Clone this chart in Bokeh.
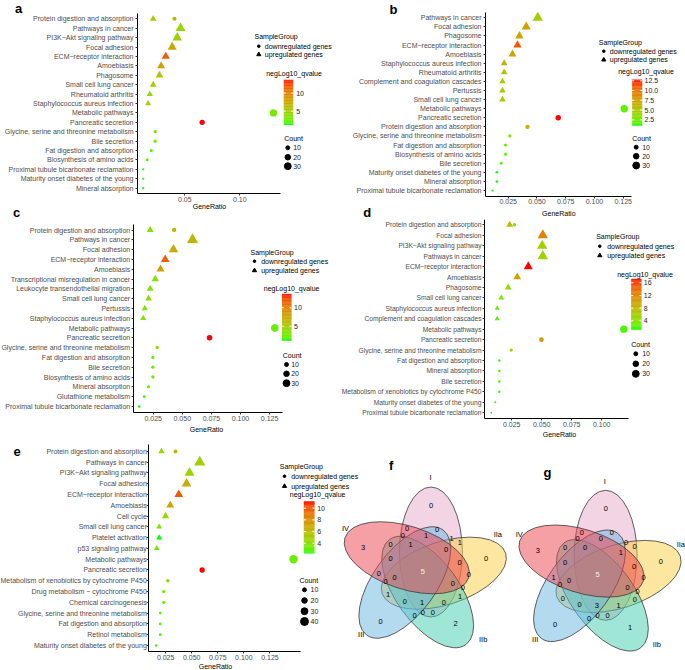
import math
from bokeh.plotting import figure
from bokeh.models import Range1d, FixedTicker, Label, PrintfTickFormatter
from bokeh.layouts import row, column
from bokeh.embed import file_html
from bokeh.resources import INLINE
from bokeh.core.properties import value

FONT = "Liberation Sans"
M = "\u2212"

# ---------------- panel a ----------------
a_rows = ["Protein digestion and absorption", "Pathways in cancer", "PI3K" + M + "Akt signaling pathway",
          "Focal adhesion", "ECM" + M + "receptor interaction", "Amoebiasis", "Phagosome",
          "Small cell lung cancer", "Rheumatoid arthritis", "Staphylococcus aureus infection",
          "Metabolic pathways", "Pancreatic secretion", "Glycine, serine and threonine metabolism",
          "Bile secretion", "Fat digestion and absorption", "Biosynthesis of amino acids",
          "Proximal tubule bicarbonate reclamation", "Maturity onset diabetes of the young",
          "Mineral absorption"]
a_up_rows = list(range(0, 10))
a_up_ratio = [0.0213, 0.0461, 0.0431, 0.0385, 0.0327, 0.0285, 0.0270, 0.0213, 0.0182, 0.0167]
a_up_count = [14, 30, 28, 25, 21, 19, 18, 14, 12, 11]
a_up_q = [5.0, 4.3, 4.6, 7.8, 11.8, 8.2, 5.8, 5.0, 4.0, 5.0]
a_dn_rows = [0] + list(range(10, 19))
a_dn_ratio = [0.0406, 0.1306, 0.0658, 0.0231, 0.0231, 0.0195, 0.0158, 0.0122, 0.0122, 0.0122]
a_dn_count = [11, 35, 18, 7, 7, 6, 5, 3, 3, 3]
a_dn_q = [7.0, 3.0, 13.7, 2.6, 2.6, 2.2, 1.8, 1.2, 1.2, 1.2]
a_xticks = [0.05, 0.10]
a_qbreaks = [5, 10]
a_qlabels = ["5", "10"]
a_cbreaks = [10, 20, 30]

# ---------------- panel b ----------------
b_rows = ["Pathways in cancer", "Focal adhesion", "Phagosome", "ECM" + M + "receptor interaction", "Amoebiasis",
          "Staphylococcus aureus infection", "Rheumatoid arthritis", "Complement and coagulation cascades",
          "Pertussis", "Small cell lung cancer", "Metabolic pathways", "Pancreatic secretion",
          "Protein digestion and absorption", "Glycine, serine and threonine metabolism",
          "Fat digestion and absorption", "Biosynthesis of amino acids", "Bile secretion",
          "Maturity onset diabetes of the young", "Mineral absorption",
          "Proximal tubule bicarbonate reclamation"]
b_up_rows = list(range(0, 10))
b_up_ratio = [0.0507, 0.0407, 0.0348, 0.0331, 0.0287, 0.0215, 0.0215, 0.0200, 0.0200, 0.0200]
b_up_count = [33, 26, 22, 21, 19, 14, 14, 13, 13, 13]
b_up_q = [4.6, 7.6, 7.2, 11.0, 7.4, 6.6, 5.2, 5.0, 5.0, 4.8]
b_dn_rows = list(range(10, 20))
b_dn_ratio = [0.1259, 0.0685, 0.0418, 0.0264, 0.0227, 0.0227, 0.0189, 0.0151, 0.0151, 0.0113]
b_dn_count = [35, 19, 12, 7, 6, 6, 5, 4, 4, 3]
b_dn_q = [2.0, 12.83, 6.4, 3.4, 2.3, 2.3, 1.7, 1.04, 1.04, 1.04]
b_xticks = [0.025, 0.050, 0.075, 0.100, 0.125]
b_qbreaks = [2.5, 5.0, 7.5, 10.0, 12.5]
b_qlabels = ["2.5", "5.0", "7.5", "10.0", "12.5"]
b_cbreaks = [10, 20, 30]

# ---------------- panel c ----------------
c_rows = ["Protein digestion and absorption", "Pathways in cancer", "Focal adhesion",
          "ECM" + M + "receptor interaction", "Amoebiasis", "Transcriptional misregulation in cancer",
          "Leukocyte transendothelial migration", "Small cell lung cancer", "Pertussis",
          "Staphylococcus aureus infection", "Metabolic pathways", "Pancreatic secretion",
          "Glycine, serine and threonine metabolism", "Fat digestion and absorption", "Bile secretion",
          "Biosynthesis of amino acids", "Mineral absorption", "Glutathione metabolism",
          "Proximal tubule bicarbonate reclamation"]
c_up_rows = list(range(0, 10))
c_up_ratio = [0.0224, 0.0588, 0.0424, 0.0353, 0.0313, 0.0267, 0.0224, 0.0210, 0.0178, 0.0164]
c_up_count = [15, 38, 28, 23, 20, 17, 15, 14, 12, 11]
c_up_q = [3.6, 6.8, 7.4, 11.9, 8.2, 3.6, 3.4, 3.8, 3.0, 3.0]
c_dn_rows = [0] + list(range(10, 19))
c_dn_ratio = [0.0430, 0.1295, 0.0734, 0.0284, 0.0247, 0.0247, 0.0247, 0.0210, 0.0173, 0.0130]
c_dn_count = [12, 36, 20, 8, 7, 7, 7, 6, 5, 4]
c_dn_q = [6.6, 2.4, 13.8, 4.2, 2.6, 2.6, 2.6, 2.1, 1.6, 1.11]
c_xticks = [0.025, 0.050, 0.075, 0.100, 0.125]
c_qbreaks = [5, 10]
c_qlabels = ["5", "10"]
c_cbreaks = [10, 20, 30]

# ---------------- panel d ----------------
d_rows = ["Protein digestion and absorption", "Focal adhesion", "PI3K" + M + "Akt signaling pathway",
          "Pathways in cancer", "ECM" + M + "receptor interaction", "Amoebiasis", "Phagosome",
          "Small cell lung cancer", "Staphylococcus aureus infection", "Complement and coagulation cascades",
          "Metabolic pathways", "Pancreatic secretion", "Glycine, serine and threonine metabolism",
          "Fat digestion and absorption", "Mineral absorption", "Bile secretion",
          "Metabolism of xenobiotics by cytochrome P450", "Maturity onset diabetes of the young",
          "Proximal tubule bicarbonate reclamation"]
d_up_rows = list(range(0, 10))
d_up_ratio = [0.0234, 0.0509, 0.0504, 0.0509, 0.0388, 0.0296, 0.0221, 0.0163, 0.0129, 0.0129]
d_up_count = [15, 33, 33, 33, 25, 19, 14, 11, 8, 8]
d_up_q = [7.7, 12.5, 6.1, 5.6, 17.26, 10.0, 4.8, 3.7, 2.9, 2.9]
d_dn_rows = [0] + list(range(10, 19))
d_dn_ratio = [0.0273, 0.1184, 0.0498, 0.0246, 0.0146, 0.0146, 0.0146, 0.0146, 0.0113, 0.0080]
d_dn_count = [8, 34, 14, 7, 4, 4, 4, 4, 3, 2]
d_dn_q = [3.7, 2.1, 10.9, 6.1, 2.1, 2.1, 2.1, 2.1, 1.6, 1.26]
d_xticks = [0.025, 0.050, 0.075, 0.100]
d_qbreaks = [4, 8, 12, 16]
d_qlabels = ["4", "8", "12", "16"]
d_cbreaks = [10, 20, 30]

# ---------------- panel e ----------------
e_rows = ["Protein digestion and absorption", "Pathways in cancer", "PI3K" + M + "Akt signaling pathway",
          "Focal adhesion", "ECM" + M + "receptor interaction", "Amoebiasis", "Cell cycle",
          "Small cell lung cancer", "Platelet activation", "p53 signaling pathway", "Metabolic pathways",
          "Pancreatic secretion", "Metabolism of xenobiotics by cytochrome P450",
          "Drug metabolism " + M + " cytochrome P450", "Chemical carcinogenesis",
          "Glycine, serine and threonine metabolism", "Fat digestion and absorption",
          "Retinol metabolism", "Maturity onset diabetes of the young"]
e_up_rows = list(range(0, 10))
e_up_ratio = [0.0210, 0.0577, 0.0479, 0.0450, 0.0376, 0.0294, 0.0249, 0.0188, 0.0188, 0.0165]
e_up_count = [13, 38, 31, 29, 24, 19, 16, 11, 11, 10]
e_up_q = [4.1, 5.0, 4.5, 6.7, 9.9, 7.2, 4.5, 3.6, 2.28, 3.35]
e_dn_rows = [0] + list(range(10, 19))
e_dn_ratio = [0.0344, 0.1476, 0.0600, 0.0271, 0.0232, 0.0232, 0.0198, 0.0198, 0.0198, 0.0159]
e_dn_count = [10, 45, 18, 8, 7, 7, 5, 5, 5, 4]
e_dn_q = [6.3, 3.2, 11.2, 4.1, 3.35, 3.35, 3.0, 3.0, 3.0, 2.6]
e_xticks = [0.025, 0.050, 0.075, 0.100, 0.125]
e_qbreaks = [4, 6, 8, 10]
e_qlabels = ["4", "6", "8", "10"]
e_cbreaks = [10, 20, 30, 40]

# ---------------- Venn f / g ----------------
venn_sets = ["I", "IIa", "IIb", "III", "IV"]
f_counts = [0, 0, 0, 0, 1, 1, 1, 3, 0, 1, 0, 0, 0, 0, 5, 0, 0, 0, 0, 0, 0, 1, 1, 0, 1, 0, 0, 0, 0, 0, 2]
g_counts = [0, 0, 0, 0, 0, 0, 0, 3, 0, 0, 1, 0, 0, 0, 5, 0, 1, 0, 0, 0, 0, 0, 0, 0, 3, 1, 0, 0, 0, 0, 1]

# ---------------- layout (page pixels) ----------------
LAY = {
    "a": dict(box=(0, 0, 340, 220), axB=193.3, axL=137, axR=280, xmap=(184.3, 0.05, 1100.0), row0=18.3, sp=9.41,
              ystand=2, yfs="7px", fmt="%.2f", xlab=(209.0, 206.0), sg=(254, 36), kmx=258.3, ktx=264.3,
              ky=(45.7, 54.0), qt=(265.7, 72.7), bar=(283.3, 292.7, 79.3, 124.3), blx=295.7, ct=(283.7, 138.3),
              cmx=287.3, ctx=292.7, cy=[147.3, 156.7, 165.7], letters=[("a", 18, 8.3), ("c", 16, 211.7)]),
    "b": dict(box=(340, 0, 345, 219), axB=195.5, axL=485, axR=630.7, xmap=(507.7, 0.025, 1150.0), row0=17.3,
              sp=9.09, ystand=2, yfs="7px", fmt="%.3f", xlab=(558.3, 213.0), sg=(598.3, 42.3), kmx=603.3,
              ktx=609.3, ky=(50.7, 59.3), qt=(617.7, 71.0), bar=(631.7, 641.7, 79.0, 125.0), blx=644.0,
              ct=(631.7, 137.7), cmx=635.7, ctx=641.7, cy=[146.7, 155.7, 165.0],
              letters=[("b", 393, 8.5), ("d", 366.7, 212.0)]),
    "c": dict(box=(0, 220, 340, 220), axB=412.2, axL=132.7, axR=281.7, xmap=(210.9, 0.075, 1164.0), row0=229.5,
              sp=9.8, ystand=1, yfs="7px", fmt="%.3f", xlab=(206.0, 429.0), sg=(250, 251.7), kmx=254, ktx=260.7,
              ky=(260.7, 270.0), qt=(263.3, 288.3), bar=(281.5, 291.0, 293.3, 340.0), blx=293.5, ct=(282.3, 355.0),
              cmx=286.0, ctx=290.7, cy=[364.0, 373.3, 382.7], letters=[]),
    "d": dict(box=(340, 219, 345, 221), axB=418.3, axL=484, axR=628.3, xmap=(556.2, 0.0625, 1200.0), row0=224.3,
              sp=10.44, ystand=1, yfs="6.7px", fmt="%.3f", xlab=(559.0, 434.3), sg=(595.7, 235.7), kmx=599.3,
              ktx=606.7, ky=(245.7, 255.0), qt=(616.7, 273.7), bar=(630.7, 641.0, 278.3, 329.0), blx=643.3,
              ct=(630.7, 344.0), cmx=635.3, ctx=641.7, cy=[353.3, 363.3, 373.3], letters=[]),
    "e": dict(box=(0, 440, 685, 230), axB=651.4, axL=148.3, axR=300, xmap=(217.3, 0.075, 1043.0), row0=450.9,
              sp=10.78, ystand=0, yfs="7px", fmt="%.3f", xlab=(215.0, 665.5), sg=(279.3, 465.7), kmx=284,
              ktx=290.7, ky=(475.7, 485.7), qt=(289.3, 494.3), bar=(303.3, 314.0, 500.7, 552.7), blx=316.7,
              ct=(299.0, 580.0), cmx=304.0, ctx=310.0, cy=[589.3, 600.0, 610.7, 621.0], letters=[("e", 16.7, 451)]),
}

VENN_LX = [430.7, 406.7, 402.3, 436.7, 425.7, 451.0, 459.3, 362.7, 390.0, 410.0, 445.7, 485.7, 390.0, 459.0, 422.3,
           468.3, 378.3, 385.0, 394.0, 452.3, 462.3, 459.7, 387.7, 404.3, 421.7, 443.3, 414.0, 422.3, 432.3, 380.0, 455.0]
VENN_LY = [505.0, 528.3, 535.0, 529.0, 535.0, 538.3, 542.3, 546.7, 544.0, 544.0, 549.0, 557.7, 558.3, 562.3, 571.0,
           574.0, 573.3, 580.7, 576.7, 583.3, 587.3, 595.7, 594.3, 600.7, 601.7, 601.7, 615.0, 611.7, 611.7, 620.7, 623.3]
VENN = {
    "f": dict(C=(422.3, 571.0), shift=(0.0, 0.0), letter=("f", 390.7, 465.0),
              setpos=[(430.0, 477.3), (497.3, 534.3), (482.7, 639.0), (360.7, 634.3), (345.0, 528.3)]),
    "g": dict(C=(597.0, 574.3), shift=(174.7, 3.3), letter=("g", 547.0, 471.7),
              setpos=[(604.3, 480.7), (680.3, 544.0), (656.3, 644.0), (534.7, 639.0), (518.7, 534.0)]),
}
# ellipse axis angle (deg, counter-clockwise) for I, IIa, IIb, III, IV and fill colours
VENN_ANG = [90, 18, 306, 234, 162]
VENN_FILL = ["#E7A9C9", "#FBCD41", "#41CDAF", "#69B5E1", "#EB414B"]
VENN_A, VENN_B, VENN_D, VENN_OFF = 65.0, 31.5, 21.1, -22.6


# ---------------- colour gradient (Lab, like ggplot) ----------------
def _lin(c):
    c = c / 255.0
    return c / 12.92 if c <= 0.04045 else ((c + 0.055) / 1.055) ** 2.4


def _gam(c):
    c = min(1.0, max(0.0, c))
    v = 12.92 * c if c <= 0.0031308 else 1.055 * c ** (1 / 2.4) - 0.055
    return int(round(v * 255))


def rgb_to_lab(h):
    r, g, b = (int(h[i:i + 2], 16) for i in (1, 3, 5))
    R, G, B = _lin(r), _lin(g), _lin(b)
    X = (0.4124 * R + 0.3576 * G + 0.1805 * B) / 0.95047
    Y = 0.2126 * R + 0.7152 * G + 0.0722 * B
    Z = (0.0193 * R + 0.1192 * G + 0.9505 * B) / 1.08883
    f = lambda t: t ** (1 / 3) if t > 0.008856 else 7.787 * t + 16 / 116
    fx, fy, fz = f(X), f(Y), f(Z)
    return 116 * fy - 16, 500 * (fx - fy), 200 * (fy - fz)


def lab_to_hex(L, a, b):
    fy = (L + 16) / 116
    fx = fy + a / 500
    fz = fy - b / 200
    finv = lambda t: t ** 3 if t ** 3 > 0.008856 else (t - 16 / 116) / 7.787
    X = 0.95047 * finv(fx)
    Y = finv(fy)
    Z = 1.08883 * finv(fz)
    R = 3.2406 * X - 1.5372 * Y - 0.4986 * Z
    G = -0.9689 * X + 1.8758 * Y + 0.0415 * Z
    B = 0.0557 * X - 0.2040 * Y + 1.0570 * Z
    return "#%02x%02x%02x" % (_gam(R), _gam(G), _gam(B))


LOW, HIGH = rgb_to_lab("#00FF00"), rgb_to_lab("#FF0000")


def grad(t):
    t = min(1.0, max(0.0, t))
    return lab_to_hex(*(lo + (hi - lo) * t for lo, hi in zip(LOW, HIGH)))


def csize(c):
    return 1.25 * math.sqrt(c)


def txt(p, x, y, s, color="#000000", size="7px", align="left"):
    p.text(x=[x], y=[y], text=[s], text_font=value(FONT), text_font_size=size, text_color=color,
           text_align=align, text_baseline="middle")


def label(p, x, y, s, size="7px", bold=False):
    p.add_layout(Label(x=x, y=y, text=s, text_font=FONT, text_font_size=size, text_color="#000000",
                       text_font_style="bold" if bold else "normal", text_align="center",
                       text_baseline="middle"))


def dot_panel(L, rows, up, dn, xticks, qbreaks, qlabels, cbreaks):
    FL, FT, W, H = L["box"]
    px0, r0, sc = L["xmap"]
    rx = lambda px: r0 + (px - px0) / sc
    ry = lambda py: -(py - L["row0"]) / L["sp"]
    n = len(rows)
    # the frame fills the whole figure; both axes sit at fixed data positions inside it
    p = figure(width=W, height=H, x_range=Range1d(rx(FL), rx(FL + W)), y_range=Range1d(ry(FT + H), ry(FT)),
               output_backend="svg", toolbar_location=None, min_border=0)
    p.grid.visible = False
    p.outline_line_color = None
    p.background_fill_color = "white"
    p.border_fill_color = "white"

    xa = p.xaxis[0]
    xa.fixed_location = ry(L["axB"])
    xa.bounds = (rx(L["axL"]), rx(L["axR"]))
    xa.ticker = FixedTicker(ticks=xticks)
    xa.formatter = PrintfTickFormatter(format=L["fmt"])
    ya = p.yaxis[0]
    ya.fixed_location = rx(L["axL"])
    ya.bounds = (ry(L["axB"]), 0.6)
    ya.ticker = FixedTicker(ticks=[-i for i in range(n)])
    ya.major_label_overrides = {-i: r for i, r in enumerate(rows)}
    for ax in (xa, ya):
        ax.axis_line_color = "black"
        ax.axis_line_width = 1
        ax.major_tick_line_color = "#333333"
        ax.major_tick_out = 2
        ax.major_tick_in = 0
        ax.minor_tick_out = 0
        ax.minor_tick_in = 0
        ax.major_label_text_font = FONT
        ax.major_label_text_font_size = "7px"
        ax.major_label_text_color = "#4D4D4D"
    ya.major_label_text_font_size = L["yfs"]
    xa.major_label_standoff = 1
    ya.major_label_standoff = int(L["ystand"])
    # x-axis title, centred under the axis line
    label(p, rx(L["xlab"][0]), ry(L["xlab"][1]), "GeneRatio")

    qs = up[3] + dn[3]
    qmin, qmax = min(qs), max(qs)
    col = lambda q: grad((q - qmin) / (qmax - qmin))

    # points (upregulated: triangles, downregulated: circles)
    p.scatter(x=up[1], y=[-r for r in up[0]], size=[1.45 * csize(c) for c in up[2]], marker="triangle",
              fill_color=[col(q) for q in up[3]], line_color=None)
    p.scatter(x=dn[1], y=[-r for r in dn[0]], size=[csize(c) for c in dn[2]], marker="circle",
              fill_color=[col(q) for q in dn[3]], line_color=None)

    # legend: SampleGroup
    txt(p, rx(L["sg"][0]), ry(L["sg"][1]), "SampleGroup")
    p.scatter(x=[rx(L["kmx"])], y=[ry(L["ky"][0])], size=2.6, marker="circle", color="black")
    p.scatter(x=[rx(L["kmx"])], y=[ry(L["ky"][1])], size=4.2, marker="triangle", color="black")
    txt(p, rx(L["ktx"]), ry(L["ky"][0]), "downregulated genes")
    txt(p, rx(L["ktx"]), ry(L["ky"][1]), "upregulated genes")

    # legend: colour bar
    txt(p, rx(L["qt"][0]), ry(L["qt"][1]), "negLog10_qvalue")
    bx0, bx1, bt, bb = L["bar"]
    nseg = 60
    lefts, rights, tops, bots, cols = [], [], [], [], []
    for j in range(nseg):
        t0, t1 = j / nseg, (j + 1) / nseg
        lefts.append(rx(bx0))
        rights.append(rx(bx1))
        bots.append(ry(bb - t0 * (bb - bt) + 0.3))
        tops.append(ry(bb - t1 * (bb - bt)))
        cols.append(grad((t0 + t1) / 2))
    p.quad(left=lefts, right=rights, top=tops, bottom=bots, fill_color=cols, line_color=None)
    tw = (bx1 - bx0) * 0.2
    for b, lab in zip(qbreaks, qlabels):
        py = bb - (b - qmin) / (qmax - qmin) * (bb - bt)
        p.segment(x0=[rx(bx0), rx(bx1 - tw)], x1=[rx(bx0 + tw), rx(bx1)], y0=[ry(py)] * 2, y1=[ry(py)] * 2,
                  line_color="white", line_width=1)
        txt(p, rx(L["blx"]), ry(py), lab, color="#222222")

    # legend: Count
    txt(p, rx(L["ct"][0]), ry(L["ct"][1]), "Count")
    for c, yy in zip(cbreaks, L["cy"]):
        p.scatter(x=[rx(L["cmx"])], y=[ry(yy)], size=csize(c), marker="circle", color="black")
        txt(p, rx(L["ctx"]), ry(yy), str(c), color="#222222")

    for s, lx, ly in L["letters"]:
        label(p, rx(lx), ry(ly), s, size="13px", bold=True)
    return p, rx, ry


def venn(p, rx, ry, V, counts):
    cx, cy = V["C"]
    xs, ys, angs = [], [], []
    for a in VENN_ANG:
        ca = math.radians(a + VENN_OFF)
        xs.append(rx(cx + VENN_D * math.cos(ca)))
        ys.append(ry(cy - VENN_D * math.sin(ca)))
        angs.append(math.radians(a))
    p.ellipse(x=xs, y=ys, width=2 * VENN_A, height=2 * VENN_B, width_units="screen", height_units="screen",
              angle=angs, fill_color=VENN_FILL, fill_alpha=0.5, line_color="#3a3a3a", line_width=0.8)
    dx, dy = V["shift"]
    lx = [rx(x + dx) for x in VENN_LX]
    ly = [ry(y + dy) for y in VENN_LY]
    colors = ["#f2f2f2" if i == 14 else "#000000" for i in range(len(counts))]
    p.text(x=lx, y=ly, text=[str(c) for c in counts], text_font=value(FONT), text_font_size="7.5px",
           text_color=colors, text_align="center", text_baseline="middle")
    for s, (sx, sy) in zip(venn_sets, V["setpos"]):
        txt(p, rx(sx), ry(sy), s, align="center", size="7.5px")
    s, lx0, ly0 = V["letter"]
    label(p, rx(lx0), ry(ly0), s, size="13px", bold=True)


pa, _, _ = dot_panel(LAY["a"], a_rows, (a_up_rows, a_up_ratio, a_up_count, a_up_q),
                     (a_dn_rows, a_dn_ratio, a_dn_count, a_dn_q), a_xticks, a_qbreaks, a_qlabels, a_cbreaks)
pb, _, _ = dot_panel(LAY["b"], b_rows, (b_up_rows, b_up_ratio, b_up_count, b_up_q),
                     (b_dn_rows, b_dn_ratio, b_dn_count, b_dn_q), b_xticks, b_qbreaks, b_qlabels, b_cbreaks)
pc, _, _ = dot_panel(LAY["c"], c_rows, (c_up_rows, c_up_ratio, c_up_count, c_up_q),
                     (c_dn_rows, c_dn_ratio, c_dn_count, c_dn_q), c_xticks, c_qbreaks, c_qlabels, c_cbreaks)
pd, _, _ = dot_panel(LAY["d"], d_rows, (d_up_rows, d_up_ratio, d_up_count, d_up_q),
                     (d_dn_rows, d_dn_ratio, d_dn_count, d_dn_q), d_xticks, d_qbreaks, d_qlabels, d_cbreaks)
pe, erx, ery = dot_panel(LAY["e"], e_rows, (e_up_rows, e_up_ratio, e_up_count, e_up_q),
                         (e_dn_rows, e_dn_ratio, e_dn_count, e_dn_q), e_xticks, e_qbreaks, e_qlabels, e_cbreaks)
venn(pe, erx, ery, VENN["f"], f_counts)
venn(pe, erx, ery, VENN["g"], g_counts)

page = column(row(column(pa, pc), column(pb, pd)), pe)
open("out.html", "w").write(file_html(page, INLINE))
